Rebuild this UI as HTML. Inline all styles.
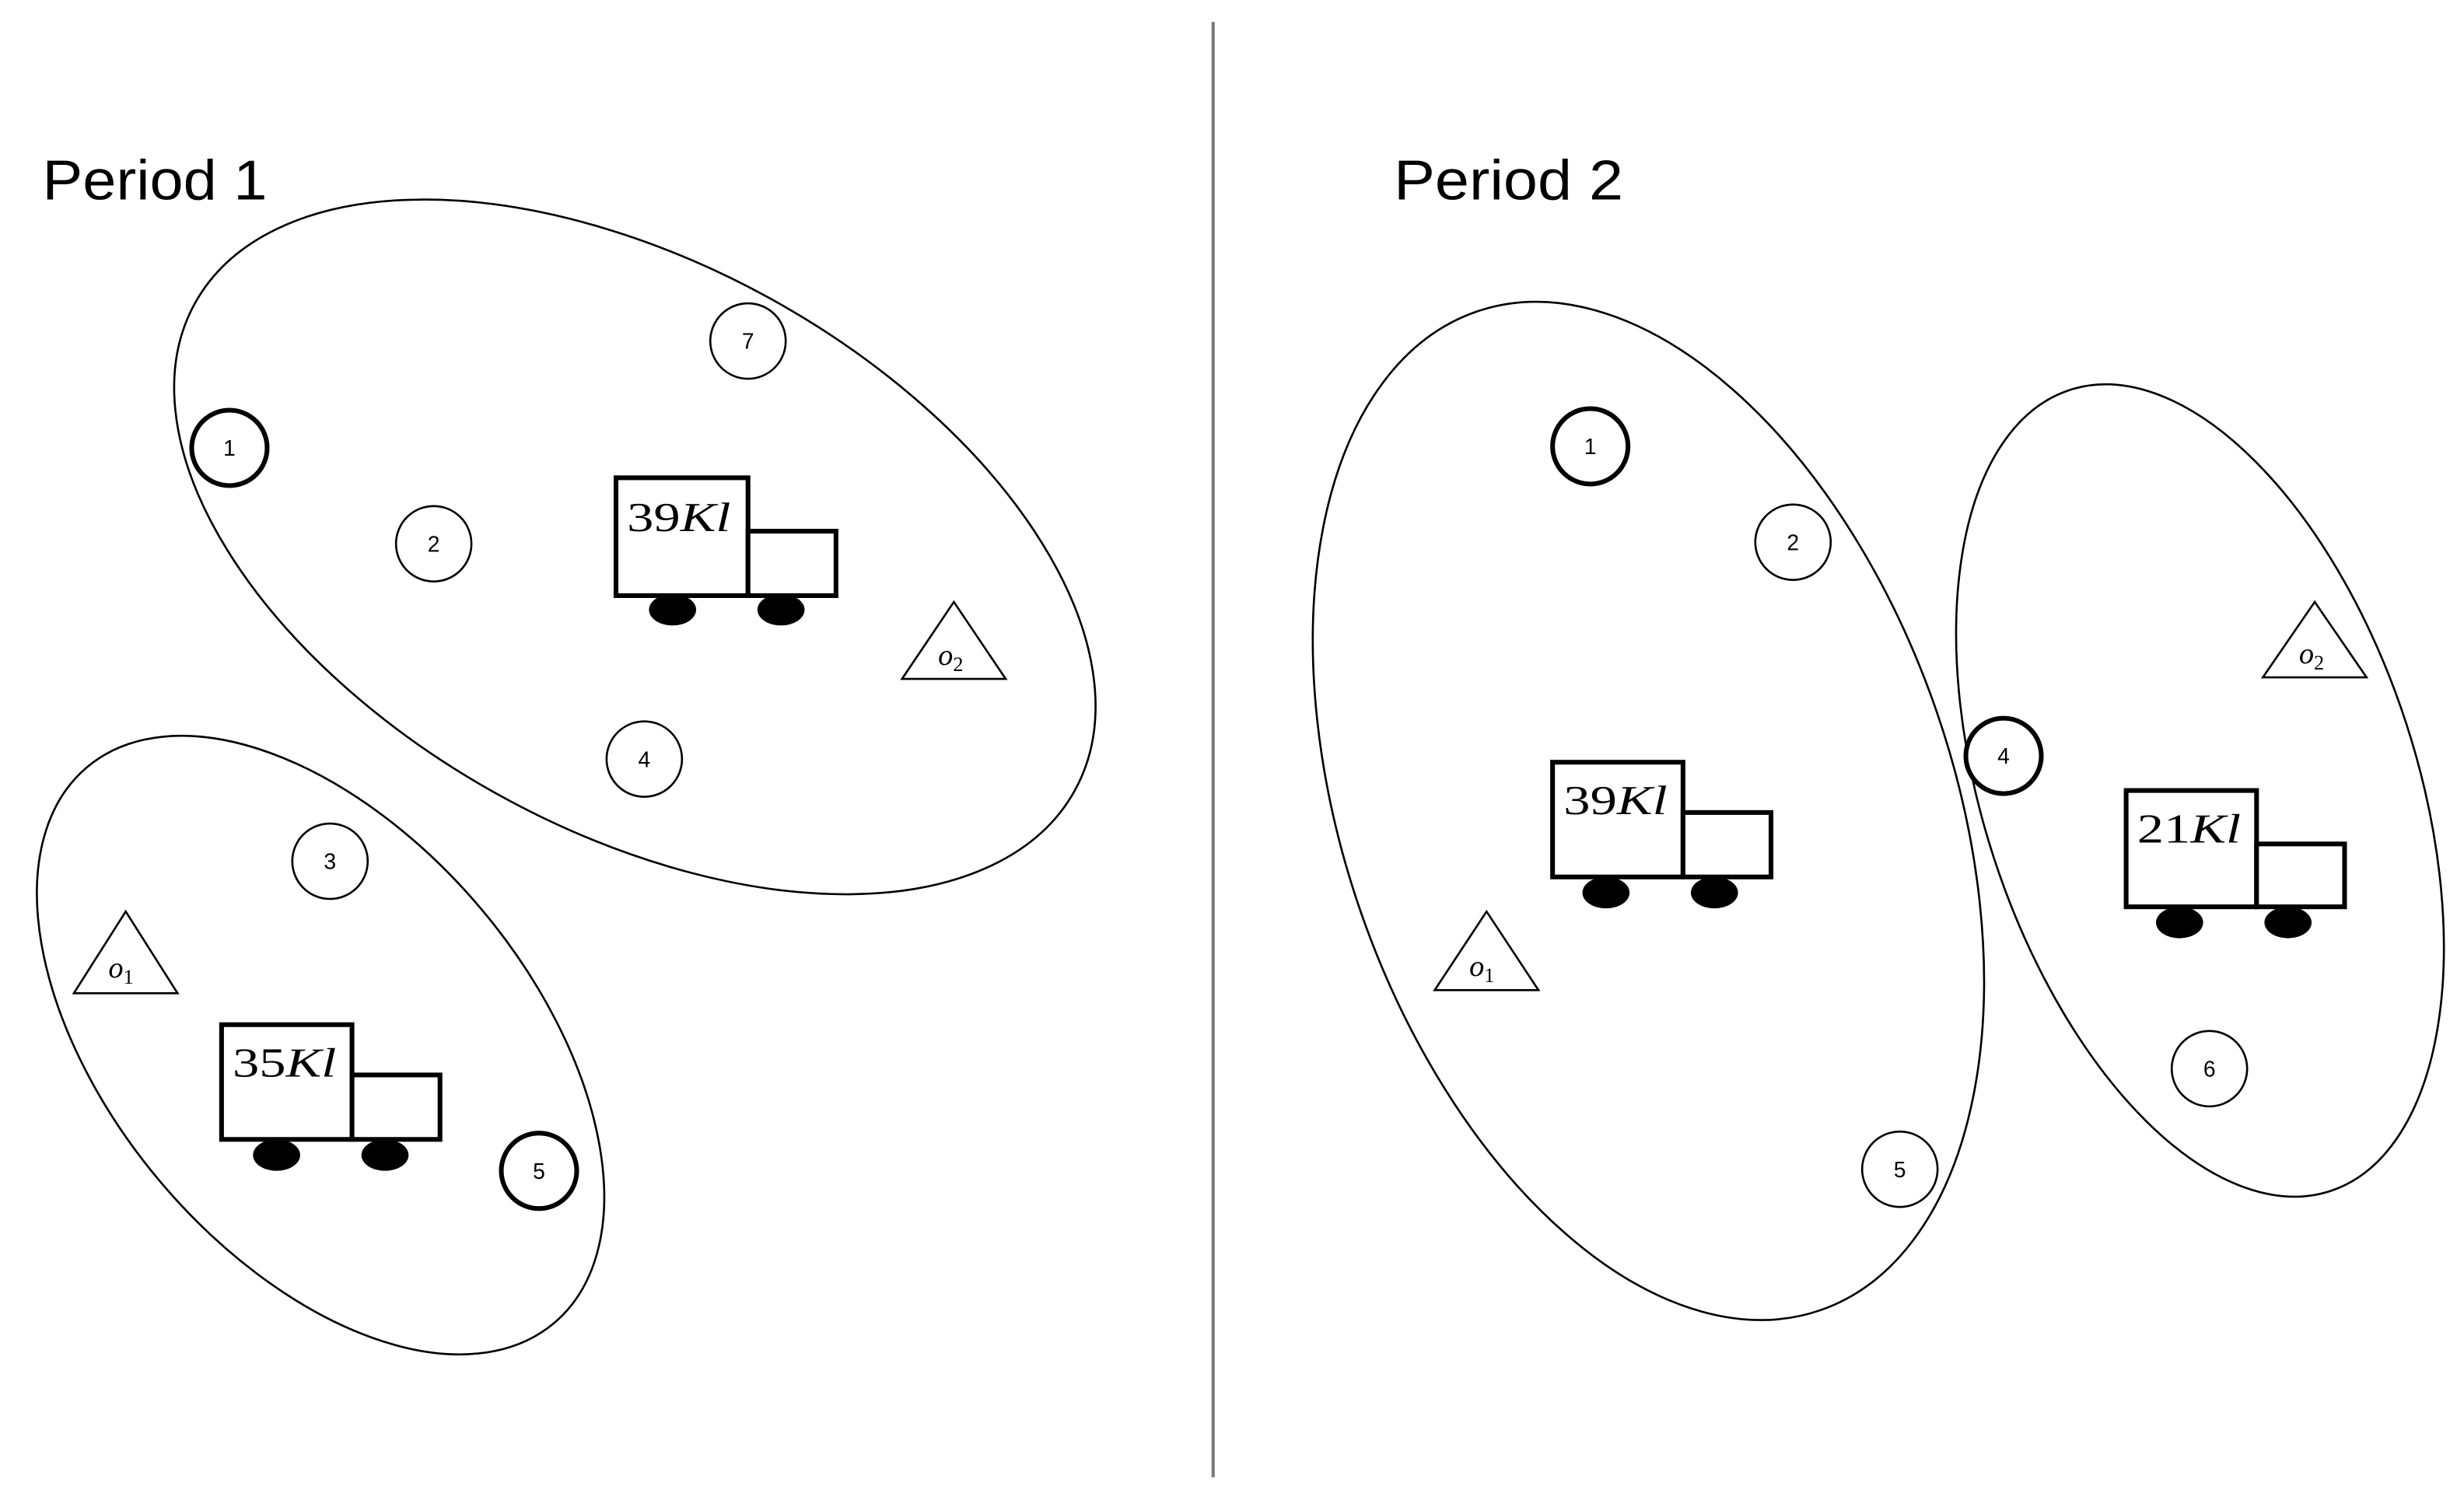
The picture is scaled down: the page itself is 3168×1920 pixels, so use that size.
<!DOCTYPE html>
<html><head><meta charset="utf-8"><style>
html,body{margin:0;padding:0;background:#fff;}
svg{display:block;}
.c{font-family:"Liberation Sans",sans-serif;font-size:14px;text-anchor:middle;}
.t{font-family:"Liberation Serif",serif;font-size:26px;}
.o{font-family:"Liberation Serif",serif;font-style:italic;font-size:19px;}
.s{font-family:"Liberation Serif",serif;font-size:13px;}
.h{font-family:"Liberation Sans",sans-serif;font-size:36px;}
</style></head><body>
<svg width="3168" height="1920" viewBox="0 0 1568 950" preserveAspectRatio="none" xmlns="http://www.w3.org/2000/svg">
<rect width="1568" height="950" fill="#fff"/>
<line x1="772" y1="14" x2="772" y2="940" stroke="#777" stroke-width="2"/>
<text class="h" x="27" y="127" textLength="143" lengthAdjust="spacingAndGlyphs">Period 1</text>
<text class="h" x="887" y="127" textLength="146" lengthAdjust="spacingAndGlyphs">Period 2</text>
<g fill="none" stroke="#000" stroke-width="1.3">
<ellipse cx="404" cy="348" rx="320" ry="180" transform="rotate(29 404 348)"/>
<ellipse cx="204" cy="665" rx="231" ry="134" transform="rotate(50 204 665)"/>
<ellipse cx="1049" cy="516" rx="336" ry="194" transform="rotate(71 1049 516)"/>
<ellipse cx="1400" cy="503" rx="268" ry="138" transform="rotate(72 1400 503)"/>
</g>
<g fill="#fff" stroke="#000">
<circle cx="476" cy="217" r="24" stroke-width="1.3"/>
<circle cx="146" cy="285" r="24" stroke-width="3"/>
<circle cx="276" cy="346" r="24" stroke-width="1.3"/>
<circle cx="410" cy="483" r="24" stroke-width="1.3"/>
<circle cx="210" cy="548" r="24" stroke-width="1.3"/>
<circle cx="343" cy="745" r="24" stroke-width="3"/>
<circle cx="1012" cy="284" r="24" stroke-width="3"/>
<circle cx="1141" cy="345" r="24" stroke-width="1.3"/>
<circle cx="1275" cy="481" r="24" stroke-width="3"/>
<circle cx="1209" cy="744" r="24" stroke-width="1.3"/>
<circle cx="1406" cy="680" r="24" stroke-width="1.3"/>
</g>
<g class="c">
<text x="476" y="222">7</text><text x="146" y="290">1</text><text x="276" y="351">2</text>
<text x="410" y="488">4</text><text x="210" y="553">3</text><text x="343" y="750">5</text>
<text x="1012" y="289">1</text><text x="1141" y="350">2</text><text x="1275" y="486">4</text>
<text x="1209" y="749">5</text><text x="1406" y="685">6</text>
</g>
<g fill="#fff" stroke="#000" stroke-width="1.3">
<polygon points="607,383 574,432 640,432"/>
<polygon points="80,580 47,632 113,632"/>
<polygon points="946,580 913,630 979,630"/>
<polygon points="1473,383 1440,431 1506,431"/>
</g>
<text x="597" y="423"><tspan class="o">o</tspan><tspan class="s" dy="4">2</tspan></text>
<text x="69" y="622"><tspan class="o">o</tspan><tspan class="s" dy="4">1</tspan></text>
<text x="935" y="621"><tspan class="o">o</tspan><tspan class="s" dy="4">1</tspan></text>
<text x="1463" y="422"><tspan class="o">o</tspan><tspan class="s" dy="4">2</tspan></text>
<g fill="#fff" stroke="#000" stroke-width="3">
<rect x="392" y="304" width="84" height="75"/><rect x="476" y="338" width="56" height="41"/>
<rect x="141" y="652" width="83" height="73"/><rect x="224" y="684" width="56" height="41"/>
<rect x="988" y="485" width="83" height="73"/><rect x="1071" y="517" width="56" height="41"/>
<rect x="1353" y="503" width="83" height="74"/><rect x="1436" y="537" width="56" height="40"/>
</g>
<g fill="#000">
<ellipse cx="428" cy="388" rx="15" ry="10"/><ellipse cx="497" cy="388" rx="15" ry="10"/>
<ellipse cx="176" cy="735" rx="15" ry="10"/><ellipse cx="245" cy="735" rx="15" ry="10"/>
<ellipse cx="1022" cy="568" rx="15" ry="10"/><ellipse cx="1091" cy="568" rx="15" ry="10"/>
<ellipse cx="1387" cy="587" rx="15" ry="10"/><ellipse cx="1456" cy="587" rx="15" ry="10"/>
</g>
<g class="t">
<text x="399" y="338" textLength="66" lengthAdjust="spacingAndGlyphs">39<tspan font-style="italic">Kl</tspan></text>
<text x="148" y="685" textLength="66" lengthAdjust="spacingAndGlyphs">35<tspan font-style="italic">Kl</tspan></text>
<text x="995" y="518" textLength="66" lengthAdjust="spacingAndGlyphs">39<tspan font-style="italic">Kl</tspan></text>
<text x="1360" y="536" textLength="66" lengthAdjust="spacingAndGlyphs">21<tspan font-style="italic">Kl</tspan></text>
</g>
</svg>
</body></html>
